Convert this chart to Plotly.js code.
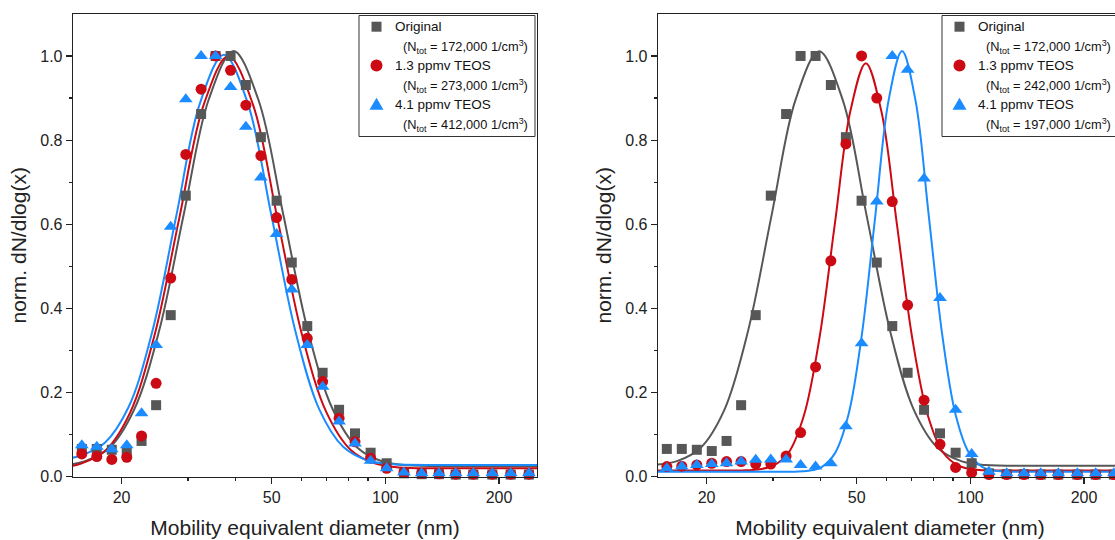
<!DOCTYPE html>
<html>
<head>
<meta charset="utf-8">
<script src="https://cdn.plot.ly/plotly-3.0.1.min.js"></script>
<style>
html,body{margin:0;padding:0;overflow:hidden;background:#fff;}
#chart{width:1125px;height:540px;}
</style>
</head>
<body>
<div id="chart"></div>
<script>
// ---- data ----
const diameters = [15.7, 17.2, 18.85, 20.65, 22.6, 24.7, 27.0, 29.6, 32.5, 35.5, 38.9, 42.7, 46.8, 51.5, 56.5, 62.1, 68.2, 75.4, 83.1, 91.4, 100.8, 112, 124.8, 138.7, 153.6, 171, 192, 214.8, 240];

const originalY = [0.066, 0.066, 0.064, 0.061, 0.085, 0.170, 0.384, 0.668, 0.862, 1.0, 1.0, 0.931, 0.807, 0.656, 0.509, 0.358, 0.247, 0.159, 0.103, 0.057, 0.032, 0.008, 0.006, 0.006, 0.005, 0.005, 0.005, 0.005, 0.005];

const leftTeos13Y = [0.054, 0.048, 0.041, 0.046, 0.097, 0.222, 0.472, 0.766, 0.921, 1.0, 0.966, 0.883, 0.763, 0.616, 0.469, 0.329, 0.226, 0.139, 0.083, 0.044, 0.020, 0.010, 0.008, 0.007, 0.006, 0.006, 0.006, 0.006, 0.006];
const leftTeos41Y = [0.075, 0.071, 0.065, 0.075, 0.151, 0.313, 0.594, 0.897, 1.0, 1.0, 0.926, 0.832, 0.711, 0.577, 0.445, 0.313, 0.214, 0.131, 0.079, 0.038, 0.020, 0.010, 0.008, 0.008, 0.008, 0.008, 0.008, 0.008, 0.008];

const rightTeos13Y = [0.024, 0.025, 0.028, 0.032, 0.036, 0.036, 0.030, 0.030, 0.049, 0.105, 0.261, 0.513, 0.791, 1.0, 0.90, 0.654, 0.408, 0.182, 0.077, 0.022, 0.0095, 0.005, 0.005, 0.005, 0.005, 0.005, 0.005, 0.005, 0.005];
const rightTeos41Y = [0.020, 0.024, 0.028, 0.030, 0.032, 0.036, 0.040, 0.041, 0.041, 0.028, 0.024, 0.032, 0.12, 0.317, 0.654, 1.0, 0.967, 0.709, 0.425, 0.159, 0.054, 0.012, 0.008, 0.008, 0.008, 0.008, 0.008, 0.008, 0.008];

// fitted curves
const fitLeftOrigX = [14.79, 15.94, 18.56, 21.59, 25.13, 29.24, 34.03, 39.60, 46.09, 53.63, 62.42, 72.62, 84.53, 98.35, 114.5, 150, 200, 257];
const fitLeftOrigY = [0.030, 0.036, 0.068, 0.159, 0.345, 0.624, 0.896, 1.012, 0.896, 0.624, 0.345, 0.159, 0.068, 0.036, 0.027, 0.025, 0.025, 0.025];
const fitLeft13X = [14.79, 15.63, 18.16, 21.09, 24.49, 28.44, 33.04, 38.37, 44.57, 51.76, 60.12, 69.82, 81.10, 94.19, 109.4, 150, 200, 257];
const fitLeft13Y = [0.026, 0.031, 0.063, 0.153, 0.338, 0.614, 0.885, 1.000, 0.885, 0.614, 0.338, 0.153, 0.063, 0.031, 0.022, 0.020, 0.020, 0.020];
const fitLeft41X = [14.79, 15.60, 18.04, 20.87, 24.13, 27.92, 32.28, 37.34, 43.19, 49.95, 57.79, 66.83, 77.30, 89.42, 103.4, 150, 200, 257];
const fitLeft41Y = [0.045, 0.050, 0.080, 0.165, 0.345, 0.619, 0.888, 1.003, 0.888, 0.619, 0.345, 0.160, 0.071, 0.039, 0.030, 0.028, 0.028, 0.028];

const fitRightOrigX = [14.79, 16.70, 19.30, 22.30, 25.76, 29.77, 34.40, 39.73, 45.92, 53.05, 61.30, 70.83, 81.85, 94.56, 109.3, 150, 200, 257];
const fitRightOrigY = [0.029, 0.037, 0.069, 0.159, 0.346, 0.623, 0.895, 1.011, 0.895, 0.623, 0.346, 0.159, 0.069, 0.037, 0.028, 0.026, 0.026, 0.026];
const fitRight13X = [14.79, 20, 24.85, 27.31, 30.01, 32.98, 36.24, 39.82, 43.77, 48.10, 52.86, 58.09, 63.84, 70.16, 77.12, 84.75, 93.15, 102.4, 112.5, 150, 200, 257];
const fitRight13Y = [0.015, 0.015, 0.015, 0.017, 0.026, 0.057, 0.146, 0.329, 0.602, 0.869, 0.983, 0.869, 0.602, 0.329, 0.146, 0.057, 0.026, 0.017, 0.015, 0.015, 0.015, 0.015];
const fitRight41X = [14.79, 20, 28, 34.28, 37.20, 40.36, 43.80, 47.53, 51.58, 55.98, 60.74, 65.92, 71.53, 77.62, 84.24, 91.41, 99.20, 107.7, 116.8, 126.8, 160, 200, 257];
const fitRight41Y = [0.012, 0.012, 0.012, 0.012, 0.014, 0.023, 0.056, 0.147, 0.337, 0.619, 0.895, 1.012, 0.895, 0.619, 0.337, 0.147, 0.056, 0.023, 0.014, 0.012, 0.012, 0.012, 0.012];

const seriesNames = ['Original', '1.3 ppmv TEOS', '4.1 ppmv TEOS'];
const leftNtot = ['172,000', '273,000', '412,000'];
const rightNtot = ['172,000', '242,000', '197,000'];

const xTickVals = [20, 50, 100, 200];
const xTickText = ['20', '50', '100', '200'];
const xMinorVals = [30, 40, 60, 70, 80, 90];
const yTickVals = [0, 0.2, 0.4, 0.6, 0.8, 1.0];
const yTickText = ['0.0', '0.2', '0.4', '0.6', '0.8', '1.0'];
const yMinorVals = [0.1, 0.3, 0.5, 0.7, 0.9];

// ---- styling ----
const GRAY = '#575757', RED = '#cc0a14', BLUE = '#1a8cff';
const colors = [GRAY, RED, BLUE];
const symbols = ['square', 'circle', 'triangle-up'];
const sizes = [10, 11, 12];
const W = 1125, H = 540;
const AX = '#222';

function fitLine(x, y, color, xa, ya) {
  return {type: 'scatter', mode: 'lines', x: x, y: y, xaxis: xa, yaxis: ya,
    line: {color: color, width: 2, shape: 'spline', smoothing: 1},
    showlegend: false, hoverinfo: 'skip'};
}
function markerTrace(y, i, xa, ya) {
  return {type: 'scatter', mode: 'markers', x: diameters, y: y, xaxis: xa, yaxis: ya,
    name: seriesNames[i], showlegend: false, cliponaxis: false,
    marker: {symbol: symbols[i], size: sizes[i], color: colors[i], line: {width: 0}}};
}

const traces = [
  fitLine(fitLeftOrigX, fitLeftOrigY, GRAY, 'x', 'y'),
  fitLine(fitLeft13X, fitLeft13Y, RED, 'x', 'y'),
  fitLine(fitLeft41X, fitLeft41Y, BLUE, 'x', 'y'),
  fitLine(fitRightOrigX, fitRightOrigY, GRAY, 'x2', 'y2'),
  fitLine(fitRight13X, fitRight13Y, RED, 'x2', 'y2'),
  fitLine(fitRight41X, fitRight41Y, BLUE, 'x2', 'y2'),
  markerTrace(originalY, 0, 'x', 'y'),
  markerTrace(leftTeos13Y, 1, 'x', 'y'),
  markerTrace(leftTeos41Y, 2, 'x', 'y'),
  markerTrace(originalY, 0, 'x2', 'y2'),
  markerTrace(rightTeos13Y, 1, 'x2', 'y2'),
  markerTrace(rightTeos41Y, 2, 'x2', 'y2')
];

function xAxis(dom, anchor) {
  return {domain: dom, anchor: anchor, type: 'log', range: [1.1725, 2.4017],
    tickmode: 'array', tickvals: xTickVals, ticktext: xTickText,
    ticks: 'outside', ticklen: 6, tickwidth: 1.2, tickcolor: AX,
    minor: {tickmode: 'array', tickvals: xMinorVals, ticks: 'outside', ticklen: 3, tickwidth: 1.2, tickcolor: AX},
    showline: true, linecolor: AX, linewidth: 1.3, mirror: true,
    showgrid: false, zeroline: false,
    tickfont: {size: 16, color: '#222'},
    title: {text: 'Mobility equivalent diameter (nm)', font: {size: 21, color: '#222'}, standoff: 15}};
}
function yAxis(anchor) {
  return {domain: [63.3 / H, 1 - 13.9 / H], anchor: anchor, range: [0, 1.1],
    tickmode: 'array', tickvals: yTickVals, ticktext: yTickText,
    ticks: 'outside', ticklen: 6, tickwidth: 1.2, tickcolor: AX,
    minor: {tickmode: 'array', tickvals: yMinorVals, ticks: 'outside', ticklen: 3, tickwidth: 1.2, tickcolor: AX},
    showline: true, linecolor: AX, linewidth: 1.3, mirror: true,
    showgrid: false, zeroline: false,
    tickfont: {size: 16, color: '#222'},
    title: {text: 'norm. dN/dlog(x)', font: {size: 21, color: '#222'}, standoff: 8}};
}

// ---- legend boxes (drawn as shapes + annotations) ----
const px = v => v / W, py = v => 1 - v / H;
const shapes = [], annotations = [];
function addLegend(boxLeft, ntot) {
  const top = 15.5, bottom = 136.5, rowY0 = 26.7, rowStep = 19.4;
  shapes.push({type: 'rect', xref: 'paper', yref: 'paper', layer: 'above',
    x0: px(boxLeft), x1: px(boxLeft + 176), y0: py(bottom), y1: py(top),
    line: {color: '#333', width: 1}, fillcolor: '#fff'});
  const sx = boxLeft + 17.5;
  for (let i = 0; i < 3; i++) {
    const yName = rowY0 + rowStep * 2 * i;
    const yN = yName + rowStep;
    annotations.push({xref: 'paper', yref: 'paper', x: px(boxLeft + 34), y: py(yName),
      xanchor: 'left', yanchor: 'middle', showarrow: false, text: seriesNames[i],
      font: {size: 13.5, color: '#111'}});
    annotations.push({xref: 'paper', yref: 'paper', x: px(boxLeft + 42), y: py(yN + 1),
      xanchor: 'left', yanchor: 'middle', showarrow: false,
      text: '(N<sub>tot</sub> = ' + ntot[i] + ' 1/cm<sup>3</sup>)',
      font: {size: 12.8, color: '#111'}});
    if (i === 0) {
      shapes.push({type: 'rect', xref: 'paper', yref: 'paper', layer: 'above',
        x0: px(sx - 5), x1: px(sx + 5), y0: py(yName + 5), y1: py(yName - 5),
        line: {width: 0}, fillcolor: colors[0]});
    } else if (i === 1) {
      shapes.push({type: 'circle', xref: 'paper', yref: 'paper', layer: 'above',
        x0: px(sx - 6), x1: px(sx + 6), y0: py(yName + 6), y1: py(yName - 6),
        line: {width: 0}, fillcolor: colors[1]});
    } else {
      const p = 'M' + px(sx) + ',' + py(yName - 6.5) + ' L' + px(sx + 7) + ',' + py(yName + 5.5) +
        ' L' + px(sx - 7) + ',' + py(yName + 5.5) + ' Z';
      shapes.push({type: 'path', xref: 'paper', yref: 'paper', layer: 'above', path: p,
        line: {width: 0}, fillcolor: colors[2]});
    }
  }
}
addLegend(359, leftNtot);
addLegend(942, rightNtot);

const layout = {
  width: W, height: H,
  margin: {l: 0, r: 0, t: 0, b: 0},
  paper_bgcolor: '#fff', plot_bgcolor: '#fff',
  font: {family: 'Liberation Sans, Arial, sans-serif', color: '#222'},
  showlegend: false,
  xaxis: xAxis([73 / W, 537 / W], 'y'),
  yaxis: yAxis('x'),
  xaxis2: xAxis([658 / W, 1122 / W], 'y2'),
  yaxis2: yAxis('x2'),
  shapes: shapes,
  annotations: annotations
};

Plotly.newPlot('chart', traces, layout, {displayModeBar: false, staticPlot: true});
</script>
</body>
</html>
